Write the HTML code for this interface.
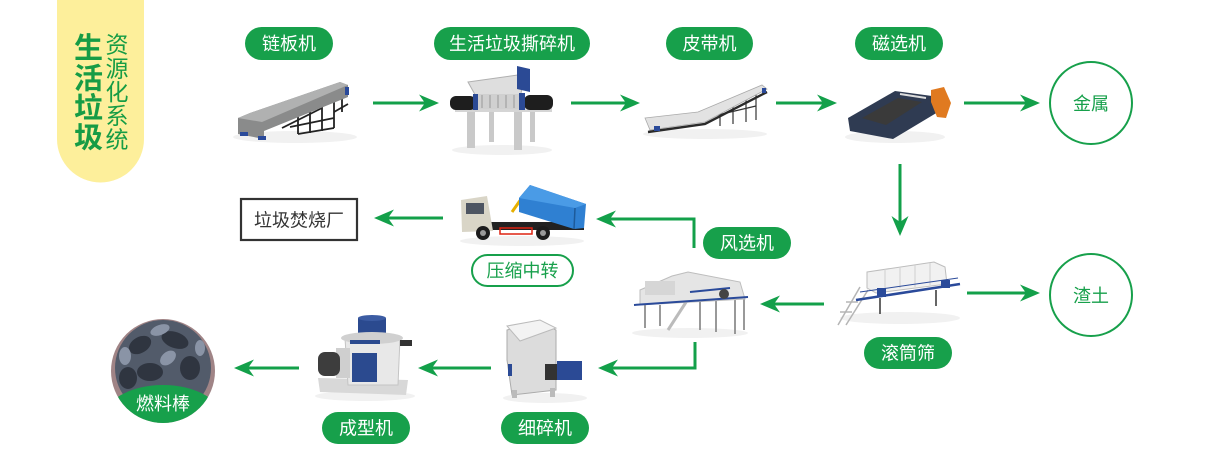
<!DOCTYPE html>
<html><head><meta charset="utf-8"><style>
html,body{margin:0;padding:0;background:#fff;}
svg{display:block;}
text{font-family:"Liberation Sans","Noto Sans CJK SC","WenQuanYi Zen Hei",sans-serif;}
</style></head><body>
<svg width="1212" height="476" viewBox="0 0 1212 476" xmlns="http://www.w3.org/2000/svg">
<defs>
<clipPath id="fc"><circle cx="163" cy="371" r="52"/></clipPath>
</defs>
<rect width="1212" height="476" fill="#fff"/>

<!-- yellow banner -->
<path d="M57,0 H144 V139 A43.5,43.5 0 0 1 57,139 Z" fill="#fdef9b"/>
<g fill="#169c45" font-weight="bold" font-size="29" text-anchor="middle">
<text x="88.5" y="58">生</text><text x="88.5" y="88.5">活</text><text x="88.5" y="118">垃</text><text x="88.5" y="147.5">圾</text>
</g>
<g fill="#169c45" font-size="23" text-anchor="middle">
<text x="117" y="52.7">资</text><text x="117" y="76.5">源</text><text x="117" y="100.2">化</text><text x="117" y="124">系</text><text x="117" y="147.7">统</text>
</g>

<!-- pills -->
<g fill="#17a04b">
<rect x="245" y="27" width="88" height="33" rx="16.5"/>
<rect x="434" y="27" width="156" height="33" rx="16.5"/>
<rect x="666" y="27" width="87" height="33" rx="16.5"/>
<rect x="855" y="27" width="88" height="33" rx="16.5"/>
<rect x="703" y="227" width="88" height="32" rx="16"/>
<rect x="864" y="337" width="88" height="32" rx="16"/>
<rect x="501" y="412" width="88" height="32" rx="16"/>
<rect x="322" y="412" width="88" height="32" rx="16"/>
</g>
<rect x="472" y="255" width="101" height="31" rx="15.5" fill="#fff" stroke="#17a04b" stroke-width="2"/>
<g fill="#fff" font-size="18" text-anchor="middle">
<text x="289" y="50">链板机</text>
<text x="512" y="50">生活垃圾撕碎机</text>
<text x="709.5" y="50">皮带机</text>
<text x="899" y="50">磁选机</text>
<text x="747" y="249.5">风选机</text>
<text x="908" y="359.5">滚筒筛</text>
<text x="545" y="434.5">细碎机</text>
<text x="366" y="434.5">成型机</text>
</g>
<text x="522.5" y="277" fill="#17a04b" font-size="18" text-anchor="middle">压缩中转</text>

<!-- circles -->
<circle cx="1091" cy="103" r="41" fill="#fff" stroke="#17a04b" stroke-width="2"/>
<circle cx="1091" cy="295" r="41" fill="#fff" stroke="#17a04b" stroke-width="2"/>
<text x="1091" y="110" fill="#17a04b" font-size="18" text-anchor="middle">金属</text>
<text x="1091" y="302" fill="#17a04b" font-size="18" text-anchor="middle">渣土</text>

<!-- incinerator box -->
<rect x="241" y="199" width="116" height="41" fill="#fff" stroke="#333" stroke-width="2.2"/>
<text x="299" y="226.5" fill="#333" font-size="18" text-anchor="middle">垃圾焚烧厂</text>

<!-- arrows -->
<g stroke="#13a04a" stroke-width="3" fill="none">
<line x1="373" y1="103" x2="425" y2="103"/>
<line x1="571" y1="103" x2="626" y2="103"/>
<line x1="776" y1="103" x2="823" y2="103"/>
<line x1="964" y1="103" x2="1026" y2="103"/>
<line x1="900" y1="164" x2="900" y2="222"/>
<line x1="967" y1="293" x2="1026" y2="293"/>
<line x1="824" y1="304" x2="774" y2="304"/>
<polyline points="694,248 694,219 610,219"/>
<line x1="443" y1="218" x2="388" y2="218"/>
<polyline points="695,342 695,368 612,368"/>
<line x1="491" y1="368" x2="432" y2="368"/>
<line x1="299" y1="368" x2="248" y2="368"/>
</g>
<g fill="#13a04a">
<polygon points="439,103 419,94.5 425,103 419,111.5"/>
<polygon points="640,103 620,94.5 626,103 620,111.5"/>
<polygon points="837,103 817,94.5 823,103 817,111.5"/>
<polygon points="1040,103 1020,94.5 1026,103 1020,111.5"/>
<polygon points="900,236 891.5,216 900,222 908.5,216"/>
<polygon points="1040,293 1020,284.5 1026,293 1020,301.5"/>
<polygon points="760,304 780,295.5 774,304 780,312.5"/>
<polygon points="596,219 616,210.5 610,219 616,227.5"/>
<polygon points="374,218 394,209.5 388,218 394,226.5"/>
<polygon points="598,368 618,359.5 612,368 618,376.5"/>
<polygon points="418,368 438,359.5 432,368 438,376.5"/>
<polygon points="234,368 254,359.5 248,368 254,376.5"/>
</g>

<!-- shadows -->
<g fill="#f1f1f1">
<ellipse cx="295" cy="137" rx="62" ry="6"/>
<ellipse cx="502" cy="150" rx="50" ry="5"/>
<ellipse cx="705" cy="134" rx="62" ry="5"/>
<ellipse cx="895" cy="137" rx="50" ry="6"/>
<ellipse cx="522" cy="241" rx="62" ry="5"/>
<ellipse cx="690" cy="333" rx="58" ry="5"/>
<ellipse cx="900" cy="318" rx="60" ry="6"/>
<ellipse cx="545" cy="398" rx="42" ry="5"/>
<ellipse cx="365" cy="396" rx="50" ry="5"/>
</g>

<!-- chain conveyor -->
<g stroke="#222" stroke-width="1.8">
<line x1="298" y1="116" x2="298" y2="134"/>
<line x1="310" y1="111" x2="310" y2="133"/>
<line x1="322" y1="106" x2="322" y2="131"/>
<line x1="334" y1="101" x2="334" y2="128"/>
<line x1="342" y1="97" x2="342" y2="112"/>
<line x1="290" y1="127" x2="334" y2="118"/>
<line x1="298" y1="134" x2="334" y2="128"/>
<line x1="282" y1="128" x2="322" y2="108"/>
<line x1="334" y1="112" x2="348" y2="104"/>
</g>
<polygon points="238,118 250,113 340,82 348,85 348,97 264,131 264,139 238,134" fill="#8a8b8b"/>
<polygon points="238,118 250,113 340,82 348,85 262,122" fill="#b0b1b1"/>
<rect x="240" y="132" width="8" height="4" fill="#2a4a9a"/>
<rect x="258" y="136" width="8" height="4" fill="#2a4a9a"/>
<rect x="345" y="87" width="4" height="8" fill="#2a4a9a"/>

<!-- shredder -->
<g fill="#c9c9c9">
<rect x="467" y="112" width="8" height="36"/>
<rect x="489" y="112" width="5" height="30"/>
<rect x="514" y="112" width="8" height="38"/>
<rect x="530" y="112" width="5" height="30"/>
</g>
<rect x="455" y="107" width="97" height="5" fill="#d5d5d5"/>
<polygon points="468,82 525,74 520,98 478,100" fill="#dedede" stroke="#b0b0b0"/>
<polygon points="517,66 530,69 530,92 517,89" fill="#2b4a95"/>
<rect x="474" y="94" width="50" height="15" fill="#d0d0d0"/>
<g stroke="#999" stroke-width="1"><line x1="482" y1="95" x2="482" y2="108"/><line x1="490" y1="95" x2="490" y2="108"/><line x1="498" y1="95" x2="498" y2="108"/><line x1="506" y1="95" x2="506" y2="108"/><line x1="514" y1="95" x2="514" y2="108"/></g>
<rect x="450" y="96" width="26" height="14" rx="6" fill="#1e1e1e"/>
<rect x="524" y="95" width="29" height="15" rx="6" fill="#1e1e1e"/>
<rect x="473" y="94" width="5" height="16" fill="#2b4a95"/>
<rect x="519" y="93" width="6" height="17" fill="#2b4a95"/>

<!-- belt conveyor -->
<g stroke="#333" stroke-width="1.2">
<line x1="720" y1="110" x2="720" y2="126"/>
<line x1="733" y1="104" x2="733" y2="124"/>
<line x1="746" y1="98" x2="746" y2="122"/>
<line x1="756" y1="93" x2="756" y2="120"/>
<line x1="705" y1="118" x2="756" y2="106"/>
</g>
<polygon points="645,118 698,112 762,85 767,89 705,122 650,130" fill="#e2e2e2" stroke="#aaa" stroke-width="0.8"/>
<polyline points="648,132 705,124 767,92" fill="none" stroke="#2a2a2a" stroke-width="2.4"/>
<rect x="654" y="126" width="6" height="5" fill="#2a4a9a"/>
<rect x="762" y="88" width="4" height="5" fill="#2a4a9a"/>

<!-- magnetic separator -->
<polygon points="848,118 895,91 932,96 938,112 893,139 850,131" fill="#2f3b52"/>
<polygon points="862,118 898,98 922,102 886,125" fill="#3a3a3a"/>
<line x1="900" y1="94" x2="926" y2="98" stroke="#ddd" stroke-width="2"/>
<polygon points="931,90 944,87 951,103 946,118 937,117 931,102" fill="#e07a20"/>

<!-- truck -->
<rect x="484" y="222" width="100" height="8" fill="#222"/>
<polygon points="461,200 487,196 493,231 462,232" fill="#d9d5c7"/>
<rect x="466" y="203" width="18" height="11" fill="#4e5562"/>
<rect x="500" y="228" width="32" height="6" fill="none" stroke="#d21" stroke-width="1.5"/>
<line x1="512" y1="212" x2="526" y2="192" stroke="#e6b000" stroke-width="3"/>
<polygon points="519,198 530,185 586,204 584,228 574,229 519,212" fill="#2f80d2"/>
<polygon points="519,198 530,185 586,204 575,208" fill="#4a9be6"/>
<line x1="575" y1="208" x2="574" y2="229" stroke="#1d5a9a" stroke-width="1.5"/>
<circle cx="483" cy="233" r="7" fill="#1c1c1c"/><circle cx="483" cy="233" r="3" fill="#999"/>
<circle cx="543" cy="233" r="7" fill="#1c1c1c"/><circle cx="543" cy="233" r="3" fill="#999"/>

<!-- air separator -->
<g stroke="#999" stroke-width="2">
<line x1="645" y1="305" x2="645" y2="328"/>
<line x1="660" y1="305" x2="660" y2="326"/>
<line x1="700" y1="302" x2="700" y2="330"/>
<line x1="716" y1="301" x2="716" y2="332"/>
<line x1="735" y1="300" x2="735" y2="334"/>
<line x1="744" y1="298" x2="744" y2="330"/>
<line x1="668" y1="330" x2="690" y2="296" stroke="#bbb" stroke-width="3"/>
</g>
<polygon points="640,290 672,276 688,272 740,282 745,299 640,305" fill="#e5e5e5" stroke="#bdbdbd"/>
<rect x="645" y="281" width="30" height="14" fill="#d6d6d6"/>
<line x1="634" y1="305" x2="748" y2="297" stroke="#2a4a9a" stroke-width="2"/>
<line x1="690" y1="292" x2="730" y2="288" stroke="#2a4a9a" stroke-width="2"/>
<circle cx="724" cy="294" r="5" fill="#444"/>

<!-- trommel screen -->
<g stroke="#b5b5b5" stroke-width="1.5">
<line x1="838" y1="325" x2="860" y2="287"/>
<line x1="846" y1="325" x2="868" y2="290"/>
<line x1="840" y1="312" x2="852" y2="312"/>
<line x1="846" y1="302" x2="858" y2="302"/>
</g>
<g stroke="#666" stroke-width="2">
<line x1="880" y1="298" x2="880" y2="314"/>
<line x1="936" y1="290" x2="936" y2="306"/>
</g>
<polygon points="867,272 934,262 945,267 947,284 876,293 867,288" fill="#f1f1f1" stroke="#bdbdbd"/>
<g stroke="#d0d0d0"><line x1="885" y1="269" x2="885" y2="290"/><line x1="900" y1="267" x2="900" y2="288"/><line x1="915" y1="265" x2="915" y2="287"/><line x1="930" y1="263" x2="930" y2="285"/></g>
<line x1="856" y1="300" x2="960" y2="284" stroke="#2a4a9a" stroke-width="2.5"/>
<line x1="860" y1="292" x2="958" y2="278" stroke="#2a4a9a" stroke-width="1"/>
<rect x="877" y="288" width="9" height="9" fill="#2a4a9a"/>
<rect x="941" y="280" width="9" height="8" fill="#2a4a9a"/>

<!-- fine crusher -->
<polygon points="507,330 540,322 556,330 556,390 512,395 507,360" fill="#dcdcdc" stroke="#ababab"/>
<polygon points="507,326 540,320 556,328 520,341" fill="#f3f3f3" stroke="#bbb"/>
<rect x="545" y="364" width="12" height="16" fill="#333"/>
<rect x="557" y="361" width="25" height="19" fill="#2b4a95"/>
<rect x="508" y="364" width="4" height="12" fill="#2b4a95"/>
<rect x="512" y="390" width="5" height="8" fill="#bbb"/>
<rect x="550" y="388" width="5" height="9" fill="#bbb"/>

<!-- pellet machine -->
<polygon points="318,378 408,380 406,395 320,392" fill="#d8d8d8"/>
<polygon points="345,338 400,338 398,385 348,385" fill="#e8e8e8" stroke="#c4c4c4"/>
<rect x="358" y="318" width="28" height="18" fill="#2b4a8f"/>
<ellipse cx="372" cy="318" rx="14" ry="3" fill="#3c5ca3"/>
<ellipse cx="372" cy="338" rx="31" ry="6" fill="#d0d0d0"/>
<rect x="350" y="340" width="30" height="4" fill="#2b4a8f"/>
<rect x="352" y="353" width="25" height="29" fill="#2b4a8f"/>
<rect x="336" y="348" width="14" height="30" fill="#cfcfcf"/>
<rect x="318" y="352" width="22" height="24" rx="7" fill="#3d3d3d"/>
<rect x="400" y="340" width="12" height="6" fill="#333"/>

<!-- fuel rods circle -->
<g clip-path="url(#fc)">
<rect x="100" y="310" width="130" height="130" fill="#a08486"/>
<circle cx="163" cy="368" r="48" fill="#525b6a"/>
<g fill="#2f3540">
<ellipse cx="140" cy="345" rx="12" ry="8" transform="rotate(-30 140 345)"/>
<ellipse cx="175" cy="340" rx="14" ry="8" transform="rotate(20 175 340)"/>
<ellipse cx="150" cy="372" rx="13" ry="9"/>
<ellipse cx="190" cy="368" rx="10" ry="12"/>
<ellipse cx="128" cy="378" rx="9" ry="11"/>
</g>
<g fill="#8a94a6">
<ellipse cx="160" cy="330" rx="10" ry="5" transform="rotate(-20 160 330)"/>
<ellipse cx="125" cy="356" rx="6" ry="9"/>
<ellipse cx="168" cy="358" rx="9" ry="6" transform="rotate(-40 168 358)"/>
<ellipse cx="200" cy="348" rx="5" ry="8"/>
</g>
<ellipse cx="163" cy="420" rx="60" ry="35" fill="#17a04b"/>
</g>
<text x="163" y="410" fill="#fff" font-size="18" text-anchor="middle">燃料棒</text>
</svg>
</body></html>
